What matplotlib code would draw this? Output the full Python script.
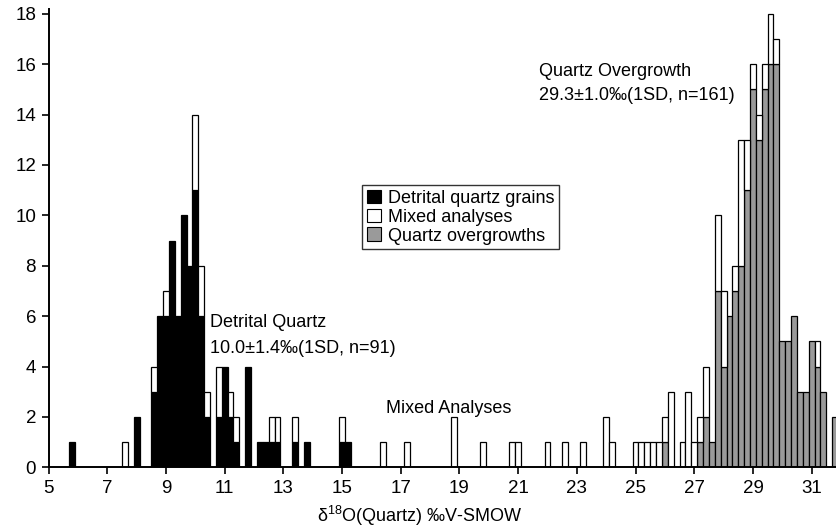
import numpy as np
import matplotlib
matplotlib.use("Agg")
import matplotlib.pyplot as plt
from matplotlib.patches import Patch

# ---- data (bin centres, 0.2 wide) ----
det_x = [5.8, 8.0, 8.6, 8.8, 9.0, 9.2, 9.4, 9.6, 9.8, 10.0, 10.2, 10.4, 10.8, 11.0,
         11.2, 11.4, 11.8, 12.2, 12.4, 12.6, 12.8, 13.4, 13.8, 15.0, 15.2]
det_n = [1, 2, 3, 6, 6, 9, 6, 10, 8, 11, 6, 2, 2, 4, 2, 1, 4, 1, 1, 1, 1, 1, 1, 1, 1]

mix_x = [7.6, 8.6, 9.0, 10.0, 10.2, 10.4, 10.8, 11.2, 11.4, 12.6,
         12.8, 13.4, 15.0, 16.4, 17.2, 18.8, 19.8, 20.8, 21.0, 22.0,
         22.6, 23.2, 24.0, 24.2, 25.0, 25.2, 25.4, 25.6, 25.8, 26.0,
         26.2, 26.6, 26.8, 27.0, 27.2, 27.4, 27.8, 28.0, 28.4, 28.6,
         28.8, 29.0, 29.2, 29.4, 29.6, 29.8, 31.2]
mix_n = [1, 1, 1, 3, 2, 1, 2, 1, 1, 1,
         1, 1, 1, 1, 1, 2, 1, 1, 1, 1,
         1, 1, 2, 1, 1, 1, 1, 1, 1, 1,
         3, 1, 3, 1, 1, 2, 3, 3, 1, 5,
         2, 1, 1, 1, 2, 1, 1]

ovg_x = [26.0, 27.2, 27.4, 27.6, 27.8, 28.0, 28.2, 28.4, 28.6, 28.8, 29.0, 29.2,
         29.4, 29.6, 29.8, 30.0, 30.2, 30.4, 30.6, 30.8, 31.0, 31.2, 31.4, 31.8]
ovg_n = [1, 1, 2, 1, 7, 4, 6, 7, 8, 11, 15, 13, 15, 16, 16, 5, 5, 6, 3, 3, 5, 4, 3, 2]

legend_labels = ["Detrital quartz grains", "Mixed analyses", "Quartz overgrowths"]
xticks = list(range(5, 32, 2))
yticks = list(range(0, 19, 2))

plt.rcParams['font.family'] = ['Liberation Sans', 'DejaVu Sans']
plt.rcParams['mathtext.fontset'] = 'custom'
plt.rcParams['mathtext.rm'] = 'Liberation Sans'
plt.rcParams['mathtext.it'] = 'Liberation Sans:italic'

W, H = 836, 530
fig = plt.figure(figsize=(W / 100, H / 100), dpi=100)
ax = fig.add_axes([48.6 / W, 62.7 / H, (W - 48.6) / W, (467.3 - 8.7) / H])

bw = 0.2
black, gray = '#000000', '#9a9a9a'
lw = 0.9

ax.bar(det_x, det_n, width=bw, color=black, edgecolor='black', linewidth=lw, zorder=2)
ax.bar(ovg_x, ovg_n, width=bw, color=gray, edgecolor='black', linewidth=lw, zorder=2)

base = {}
for x, n in zip(det_x, det_n):
    base[round(x, 1)] = base.get(round(x, 1), 0) + n
for x, n in zip(ovg_x, ovg_n):
    base[round(x, 1)] = base.get(round(x, 1), 0) + n
mix_bottom = [base.get(round(x, 1), 0) for x in mix_x]
ax.bar(mix_x, mix_n, width=bw, bottom=mix_bottom, color='white', edgecolor='black',
       linewidth=lw, zorder=2)

ax.set_xlim(5, 31.83)
ax.set_ylim(0, 18.2)
ax.set_xticks(xticks)
ax.set_yticks(yticks)
ax.tick_params(direction='out', length=5, width=1.2, labelsize=13.5, pad=4)
for s in ['top', 'right']:
    ax.spines[s].set_visible(False)
for s in ['left', 'bottom']:
    ax.spines[s].set_linewidth(1.4)

ax.set_xlabel('δ$^{18}$O(Quartz) ‰V-SMOW', fontsize=13, x=(420 - 48.6) / (W - 48.6),
              labelpad=5)

ax.text(10.5, 5.73, 'Detrital Quartz', fontsize=13, va='center', ha='left')
ax.text(10.5, 4.73, '10.0±1.4‰(1SD, n=91)', fontsize=13, va='center', ha='left')
ax.text(21.72, 15.69, 'Quartz Overgrowth', fontsize=13, va='center', ha='left')
ax.text(21.72, 14.75, '29.3±1.0‰(1SD, n=161)', fontsize=13, va='center', ha='left')
ax.text(16.5, 2.35, 'Mixed Analyses', fontsize=13, va='center', ha='left')

handles = [Patch(facecolor=black, edgecolor='black', linewidth=0.8),
           Patch(facecolor='white', edgecolor='black', linewidth=0.8),
           Patch(facecolor=gray, edgecolor='black', linewidth=0.8)]
leg = ax.legend(handles, legend_labels, loc='upper left',
                bbox_to_anchor=((362 - 48.6) / (W - 48.6), (467.3 - 185) / (467.3 - 8.7)),
                fontsize=13, frameon=True, fancybox=False, edgecolor='black',
                handlelength=0.8, handleheight=0.8, handletextpad=0.4,
                labelspacing=0.1, borderpad=0.25, borderaxespad=0)
leg.get_frame().set_linewidth(1.0)

fig.savefig('out.png', dpi=100)
